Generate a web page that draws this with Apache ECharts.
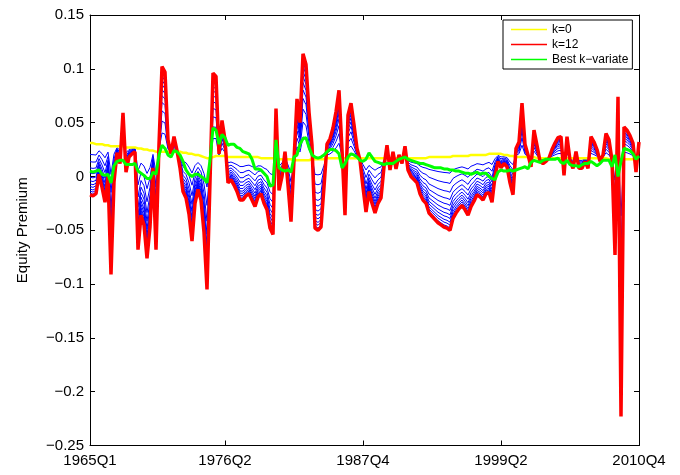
<!DOCTYPE html>
<html><head><meta charset="utf-8">
<script src="https://cdn.jsdelivr.net/npm/echarts@6/dist/echarts.min.js"></script>
<style>html,body{margin:0;padding:0;background:#fff}#c{width:680px;height:475px}</style>
</head><body><div id="c"></div>
<script>
// ---- data ----
const startYear = 1965;
const nQuarters = 184;
const tickLabels = ['1965Q1','1976Q2','1987Q4','1999Q2','2010Q4'];
const yTicks = { min: -0.25, max: 0.15, step: 0.05 };

// k = 0 forecast (yellow)
const k0 = [
0.031,0.031,0.030,0.030,0.030,0.029,0.029,0.028,0.028,0.028,
0.028,0.028,0.027,0.027,0.027,0.027,0.026,0.026,0.025,0.025,
0.024,0.024,0.023,0.023,0.023,0.023,0.023,0.023,0.023,0.023,
0.023,0.022,0.022,0.021,0.021,0.020,0.020,0.019,0.018,0.017,
0.017,0.018,0.019,0.019,0.019,0.019,0.018,0.018,0.018,0.018,
0.018,0.018,0.018,0.018,0.018,0.018,0.018,0.017,0.017,0.017,
0.017,0.017,0.017,0.016,0.016,0.016,0.016,0.016,0.015,0.015,
0.015,0.015,0.015,0.015,0.016,0.016,0.016,0.016,0.016,0.017,
0.017,0.017,0.017,0.017,0.017,0.017,0.017,0.017,0.017,0.017,
0.017,0.017,0.017,0.017,0.017,0.017,0.017,0.017,0.017,0.017,
0.017,0.017,0.017,0.017,0.017,0.017,0.017,0.017,0.017,0.017,
0.017,0.017,0.017,0.018,0.018,0.018,0.018,0.018,0.018,0.018,
0.018,0.019,0.019,0.019,0.019,0.019,0.019,0.020,0.020,0.020,
0.020,0.020,0.020,0.021,0.021,0.021,0.021,0.021,0.020,0.020,
0.019,0.019,0.018,0.018,0.018,0.018,0.018,0.018,0.018,0.017,
0.017,0.017,0.017,0.017,0.017,0.017,0.017,0.017,0.017,0.017,
0.017,0.017,0.017,0.017,0.017,0.017,0.017,0.017,0.017,0.017,
0.017,0.017,0.017,0.016,0.016,0.016,0.016,0.016,0.016,0.016,
0.016,0.016,0.016,0.016
];

// k = 12 forecast (red)
const k12 = [
-0.017,-0.018,-0.016,0.002,-0.010,-0.024,0.000,-0.091,-0.005,0.022,
0.012,0.059,0.004,0.018,0.021,0.023,-0.068,-0.036,-0.045,-0.076,
-0.047,0.008,-0.068,0.030,0.102,0.097,0.034,0.021,0.037,0.024,
0.008,-0.014,-0.020,-0.035,-0.060,-0.025,-0.012,-0.022,-0.052,-0.105,
-0.005,0.096,0.093,0.021,0.052,0.034,-0.006,-0.003,-0.008,-0.014,
-0.022,-0.022,-0.018,-0.016,-0.022,-0.028,-0.019,-0.016,-0.025,-0.031,
-0.048,-0.054,0.063,-0.013,0.000,0.023,-0.008,-0.042,0.015,0.072,
0.050,0.114,0.104,0.060,0.029,-0.048,-0.050,-0.047,-0.010,0.030,
0.035,0.045,0.060,0.080,0.025,-0.036,0.057,0.068,0.048,0.026,
0.015,-0.010,-0.033,-0.014,-0.025,-0.034,-0.025,-0.020,0.009,0.029,
0.006,0.023,0.007,0.020,0.012,0.028,0.006,0.000,-0.003,-0.006,
-0.016,-0.022,-0.025,-0.034,-0.037,-0.040,-0.043,-0.045,-0.047,-0.048,
-0.050,-0.039,-0.034,-0.030,-0.027,-0.031,-0.036,-0.028,-0.023,-0.017,
-0.019,-0.022,-0.016,-0.015,-0.024,0.000,0.014,0.008,0.012,0.009,
-0.006,-0.017,0.026,0.032,0.068,0.030,0.020,0.009,0.043,0.029,
0.014,0.012,0.014,0.017,0.025,0.031,0.036,0.037,0.001,0.037,
0.015,0.0075,0.023,0.0075,0.0075,0.014,0.0075,0.037,0.032,0.025,
0.014,0.020,0.040,0.034,0.015,-0.073,0.074,-0.223,0.046,0.043,
0.038,0.031,0.004,0.032
];

// best k-variate forecast (green)
const bestK = [
0.005,0.004,0.005,0.006,0.002,0.001,0.002,-0.006,0.010,0.014,
0.015,0.015,0.011,0.011,0.011,0.012,0.005,0.003,0.001,-0.002,
-0.002,0.004,0.002,0.020,0.029,0.026,0.020,0.018,0.024,0.023,
0.020,0.014,0.006,0.002,0.000,0.002,0.002,0.000,-0.002,-0.006,
0.015,0.045,0.043,0.030,0.039,0.036,0.029,0.030,0.030,0.027,
0.026,0.023,0.022,0.021,0.016,0.007,0.007,0.006,0.003,0.000,
-0.009,-0.008,0.034,0.008,0.006,0.005,0.006,0.004,0.018,0.020,
0.030,0.035,0.036,0.027,0.020,0.018,0.017,0.018,0.020,0.023,
0.025,0.025,0.024,0.021,0.008,0.012,0.018,0.021,0.020,0.018,
0.015,0.014,0.016,0.022,0.018,0.014,0.013,0.012,0.011,0.012,
0.012,0.012,0.014,0.016,0.017,0.018,0.016,0.015,0.014,0.013,
0.012,0.012,0.011,0.010,0.009,0.008,0.008,0.008,0.007,0.007,
0.006,0.006,0.005,0.005,0.004,0.003,0.003,0.002,0.003,0.004,
0.002,0.003,0.003,0.000,-0.002,-0.003,0.004,0.006,0.005,0.005,
0.006,0.005,0.006,0.007,0.008,0.009,0.007,0.013,0.015,0.014,
0.013,0.015,0.016,0.016,0.016,0.016,0.017,0.013,0.012,0.015,
0.011,0.010,0.010,0.009,0.011,0.012,0.012,0.014,0.012,0.010,
0.012,0.015,0.015,0.015,0.009,0.020,0.000,0.014,0.026,0.025,
0.024,0.021,0.016,0.019
];

// where each blue (k = 1..11) line sits between the k=0 and k=12 lines
const blueShare = [0.22,0.36,0.48,0.58,0.66,0.73,0.79,0.84,0.89,0.93,0.97];

// ---- build chart ----
const categories = [];
for (let i = 0; i < nQuarters; i++) categories.push((startYear + Math.floor(i / 4)) + 'Q' + (i % 4 + 1));
const showTick = (idx, val) => tickLabels.indexOf(val) >= 0;
const fmt = v => String(Math.round(v * 100) / 100).replace('-', '\u2212');
const FONT = 'Liberation Sans';
const BEST = 'Best k\u2212variate';

const series = [];
blueShare.forEach((w, j) => {
  series.push({
    name: 'blue' + (j + 1), type: 'line', symbol: 'none', silent: true, z: 2,
    itemStyle: { color: '#0000ff' }, lineStyle: { color: '#0000ff', width: 1 },
    data: k12.map((r, i) => +(k0[i] + w * (r - k0[i])).toFixed(5))
  });
});
series.push({ name: 'k=0', type: 'line', symbol: 'none', silent: true, z: 3,
  itemStyle: { color: '#ffff00' }, lineStyle: { color: '#ffff00', width: 2.5 }, data: k0 });
series.push({ name: 'k=12', type: 'line', symbol: 'none', silent: true, z: 4,
  itemStyle: { color: '#ff0000' }, lineStyle: { color: '#ff0000', width: 3.5 }, data: k12 });
series.push({ name: BEST, type: 'line', symbol: 'none', silent: true, z: 5,
  itemStyle: { color: '#00ff00' }, lineStyle: { color: '#00ff00', width: 3 }, data: bestK });

const legendItem = (name, c) => ({ name: name, icon: 'rect', itemStyle: { color: c, borderWidth: 0 }, lineStyle: { color: c, width: 1 } });

const axisLine = { show: true, onZero: false, lineStyle: { color: '#000', width: 1 } };
const chart = echarts.init(document.getElementById('c'), null, { renderer: 'canvas' });
chart.setOption({
  animation: false,
  backgroundColor: '#fff',
  grid: { left: 90, right: 41, top: 15, bottom: 29.5, containLabel: false },
  legend: {
    data: [legendItem('k=0', '#ffff00'), legendItem('k=12', '#ff0000'), legendItem(BEST, '#00ff00')],
    orient: 'vertical', left: 503, top: 20,
    icon: 'rect', itemWidth: 36, itemHeight: 1.5, itemGap: 2,
    padding: [3, 4, 3, 8], borderColor: '#000', borderWidth: 1, backgroundColor: '#fff',
    textStyle: { fontSize: 12, fontFamily: FONT, color: '#000', lineHeight: 13 },
    selectedMode: false
  },
  xAxis: [{
    type: 'category', data: categories, boundaryGap: false, position: 'bottom',
    axisLine: axisLine,
    axisTick: { show: true, inside: true, length: 5, interval: showTick, lineStyle: { color: '#000' } },
    axisLabel: { interval: showTick, color: '#000', fontSize: 15, fontFamily: FONT, margin: 8 },
    splitLine: { show: false }
  }, {
    type: 'category', data: categories, boundaryGap: false, position: 'top',
    axisLine: axisLine,
    axisTick: { show: true, inside: true, length: 5, interval: showTick, lineStyle: { color: '#000' } },
    axisLabel: { show: false }, splitLine: { show: false }
  }],
  yAxis: [{
    type: 'value', min: yTicks.min, max: yTicks.max, interval: yTicks.step, position: 'left',
    axisLine: axisLine,
    axisTick: { show: true, inside: true, length: 5, lineStyle: { color: '#000' } },
    axisLabel: { color: '#000', fontSize: 15, fontFamily: FONT, margin: 6, formatter: fmt },
    splitLine: { show: false },
    name: 'Equity Premium', nameLocation: 'middle', nameGap: 60,
    nameTextStyle: { color: '#000', fontSize: 15, fontFamily: FONT }
  }, {
    type: 'value', min: yTicks.min, max: yTicks.max, interval: yTicks.step, position: 'right',
    axisLine: axisLine,
    axisTick: { show: true, inside: true, length: 5, lineStyle: { color: '#000' } },
    axisLabel: { show: false }, splitLine: { show: false }
  }],
  series: series
});
</script></body></html>
